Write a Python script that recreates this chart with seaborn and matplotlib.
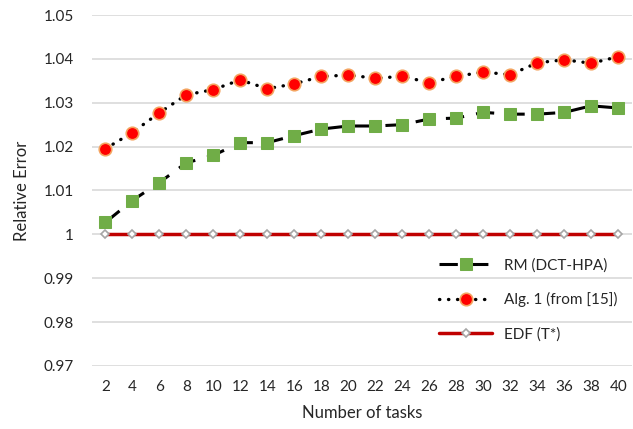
import matplotlib
matplotlib.use('Agg')
import matplotlib.pyplot as plt
import pandas as pd
import seaborn as sns

# Data
tasks = [2, 4, 6, 8, 10, 12, 14, 16, 18, 20, 22, 24, 26, 28, 30, 32, 34, 36, 38, 40]
rm_dct_hpa = [1.0027, 1.0077, 1.0118, 1.0163, 1.0180, 1.0209, 1.0209, 1.0225, 1.0240, 1.0247,
              1.0247, 1.0250, 1.0263, 1.0265, 1.0278, 1.0274, 1.0274, 1.0278, 1.0293, 1.0288]
alg1 = [1.0195, 1.0232, 1.0277, 1.0318, 1.0330, 1.0352, 1.0332, 1.0343, 1.0360, 1.0363,
        1.0356, 1.0360, 1.0346, 1.0360, 1.0370, 1.0364, 1.0391, 1.0398, 1.0390, 1.0405]
edf = [1.0] * len(tasks)
y_ticks = [0.97, 0.98, 0.99, 1.00, 1.01, 1.02, 1.03, 1.04, 1.05]
y_labels = ['0.97', '0.98', '0.99', '1', '1.01', '1.02', '1.03', '1.04', '1.05']

df = pd.DataFrame({'pos': range(len(tasks)), 'rm': rm_dct_hpa, 'alg1': alg1, 'edf': edf})

sns.set_style('white')
plt.rcParams['font.family'] = ['Lato', 'DejaVu Sans']
txt = '#262626'

fig = plt.figure(figsize=(6.33, 4.29), dpi=100)
ax = fig.add_axes([0.145, 0.147, 0.853, 0.818])

sns.lineplot(data=df, x='pos', y='rm', ax=ax, color='black', linewidth=2.2,
             marker='s', markersize=9, markerfacecolor='#70AD47', markeredgecolor='#70AD47',
             label='RM (DCT-HPA)', zorder=3)
ax.lines[-1].set_dashes([6, 4])
sns.lineplot(data=df, x='pos', y='alg1', ax=ax, color='black', linewidth=2.4,
             marker='o', markersize=9, markerfacecolor='#FF0000', markeredgecolor='#F4A460',
             markeredgewidth=1.2, label='Alg. 1 (from [15])', zorder=3)
ax.lines[-1].set_dashes([0.1, 2.6])
ax.lines[-1].set_dash_capstyle('round')
sns.lineplot(data=df, x='pos', y='edf', ax=ax, color='#C00000', linewidth=2.5,
             marker='D', markersize=4.5, markerfacecolor='white', markeredgecolor='#A6A6A6',
             markeredgewidth=1.2, label='EDF (T*)', zorder=4)

ax.set_xlim(-0.5, len(tasks) - 0.5)
ax.set_ylim(0.97, 1.05)
ax.set_xticks(range(len(tasks)))
ax.set_xticklabels([str(t) for t in tasks], fontsize=11, color=txt)
ax.set_yticks(y_ticks)
ax.set_yticklabels(y_labels, fontsize=11, color=txt)
ax.tick_params(axis='y', length=0, pad=13)
ax.tick_params(axis='x', length=0, pad=10)
ax.grid(axis='y', color='#D9D9D9', linewidth=1.2)
ax.set_axisbelow(True)
for s in ax.spines.values():
    s.set_visible(False)

ax.set_xlabel('Number of tasks', fontsize=12, color=txt, labelpad=8)
ax.set_ylabel('Relative Error', fontsize=12, color=txt, labelpad=10)

ax.legend(loc='lower right', bbox_to_anchor=(1.0, 0.03), frameon=False, fontsize=11,
          labelspacing=1.3, handlelength=3.5, labelcolor=txt)

fig.savefig('out.png', dpi=100)
